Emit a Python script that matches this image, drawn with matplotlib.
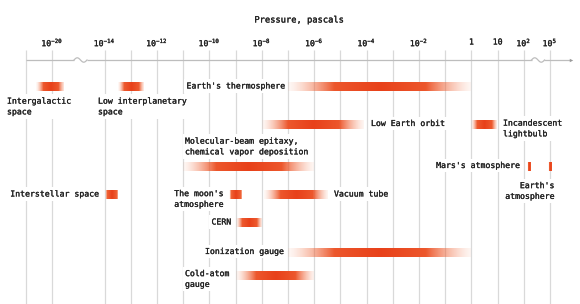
import numpy as np
import matplotlib
matplotlib.use('Agg')
from matplotlib import pyplot as plt
from matplotlib import patheffects
from matplotlib.colors import to_rgb

# pressure ranges as log10(pascals)
names = ['Intergalactic space', 'Low interplanetary space', "Earth's thermosphere",
         'Low Earth orbit', 'Incandescent lightbulb',
         'Molecular-beam epitaxy, chemical vapor deposition', "Mars's atmosphere",
         "Earth's atmosphere", 'Interstellar space', "The moon's atmosphere",
         'Vacuum tube', 'CERN', 'Ionization gauge', 'Cold-atom gauge']
low_exp = [-20.6, -13.5, -7.0, -8.0, 0.0, -11.0, 2.35, 4.75, -14.0, -9.25, -7.9, -9.0, -7.0, -9.0]
high_exp = [-18.5, -12.5, 0.0, -4.1, 1.0, -6.0, 2.85, 5.1, -13.5, -8.75, -5.45, -8.0, 0.0, -6.0]

tick_exp = [-20, -14, -12, -10, -8, -6, -4, -2, 0, 1, 2, 5]
tick_labels = [r'$\mathregular{10^{-20}}$', r'$\mathregular{10^{-14}}$', r'$\mathregular{10^{-12}}$',
               r'$\mathregular{10^{-10}}$', r'$\mathregular{10^{-8}}$', r'$\mathregular{10^{-6}}$',
               r'$\mathregular{10^{-4}}$', r'$\mathregular{10^{-2}}$', '1', '10',
               r'$\mathregular{10^{2}}$', r'$\mathregular{10^{5}}$']
grid_exp = [-21, -20, -14, -13, -12, -11, -10, -9, -8, -7, -6, -5, -4, -3, -2, -1, 0, 1, 2, 5]

# layout (pixels from top-left of the 580x304 canvas)
bar_row = [86, 86, 86, 124, 124, 166, 166, 166, 194, 194, 194, 222, 252, 275]
label_text = ['Intergalactic\nspace', 'Low interplanetary\nspace', "Earth's thermosphere",
              'Low Earth orbit', 'Incandescent\nlightbulb',
              'Molecular-beam epitaxy,\nchemical vapor deposition', "Mars's atmosphere",
              "Earth's\natmosphere", 'Interstellar space', "The moon's\natmosphere",
              'Vacuum tube', 'CERN', 'Ionization gauge', 'Cold-atom\ngauge']
label_xy = [(7, 106.5), (98, 106.5), (284, 86), (371, 123.5), (503, 128.5),
            (185, 146.5), (519, 165.5), (554, 191), (98, 194), (223, 199),
            (334, 194), (231, 222), (283, 251.5), (185, 279)]
label_ha = ['left', 'left', 'right', 'left', 'left', 'left', 'right', 'right',
            'right', 'right', 'left', 'right', 'right', 'left']

W, H = 580, 304
X0, STEP = 26, 26.2          # pixel of 10^-21 gridline, pixels per decade
TEXT = '#222222'
GRID = '#d9d9d9'
AXIS = '#bdbdbd'
RED = np.array(to_rgb('#e8411a'))
ORANGE = np.array(to_rgb('#f47b4a'))

# broken log axis: piecewise linear in the exponent
break_exp = [-40, -20, -14, 2, 5, 40]
break_pos = [-19, 1, 3, 19, 20, 55]


def forward(e):
    return np.interp(e, break_exp, break_pos)


def inverse(s):
    return np.interp(s, break_pos, break_exp)


def fx(px):
    return px / W


def fy(py):
    return 1 - py / H


def gradient_bar(ax, lo, hi, y, h=9.5):
    cols = 300
    e = np.linspace(lo, hi, cols)
    s = forward(e)
    t = (s - s[0]) / (s[-1] - s[0])
    w = 1 - np.abs(2 * t - 1)
    # short bars fade over a smaller share of their length
    fade = np.clip((s[-1] - s[0]) * STEP / 60, 0.15, 0.5)
    img = np.zeros((1, cols, 4))
    img[0, :, :3] = ORANGE + (RED - ORANGE) * (w[:, None] ** 0.7)
    img[0, :, 3] = 0.06 + 0.94 * np.clip(w / fade, 0, 1) ** 1.3
    ax.imshow(img, extent=(lo, hi, y + h / 2, y - h / 2), aspect='auto',
              interpolation='bilinear', zorder=3)


plt.rcParams['font.family'] = ['DejaVu Sans Mono', 'DejaVu Sans']
heavy = [patheffects.withStroke(linewidth=0.18, foreground=TEXT)]

fig = plt.figure(figsize=(W / 100, H / 100), dpi=100)
ax = fig.add_axes([0, 0, 1, 1])
ax.set_xscale('function', functions=(forward, inverse))
ax.axis('off')

# gridlines
ax.vlines(grid_exp, 50, H, color=GRID, lw=0.9, zorder=1)

# axis line with two breaks and an arrow
seg_px = [(X0, 74), (87, 532), (544, 570)]
for a, b in seg_px:
    ax.plot([inverse((a - X0) / STEP), inverse((b - X0) / STEP)], [60, 60],
            color=AXIS, lw=0.9, zorder=1, solid_capstyle='butt')
for c in (80.5, 538):
    xs = np.linspace(c - 6.5, c + 6.5, 30)
    ys = 60 - 2.2 * np.sin((xs - xs[0]) / 13 * 2 * np.pi)
    ax.plot(inverse((xs - X0) / STEP), ys, color=AXIS, lw=0.9, zorder=1)
ax.plot([inverse((571 - X0) / STEP)], [60], marker='>', ms=2.5, color='#9a9a9a',
        mec='none', zorder=1)

# tick labels and title
for e, lab in zip(tick_exp, tick_labels):
    ax.text(e, 42, lab, ha='center', va='center', fontsize=5.9, color=TEXT,
            path_effects=heavy)
ax.text(fx(299), fy(20), 'Pressure, pascals', transform=ax.transAxes,
        ha='center', va='center', fontsize=6.3, color=TEXT, path_effects=heavy)

# bars
for lo, hi, y in zip(low_exp, high_exp, bar_row):
    gradient_bar(ax, lo, hi, y)

# labels
for txt, (px, py), ha in zip(label_text, label_xy, label_ha):
    ax.text(fx(px), fy(py), txt, transform=ax.transAxes, ha=ha, va='center',
            ma=ha, fontsize=5.9, color=TEXT, linespacing=1.25, zorder=4,
            path_effects=heavy,
            bbox=dict(boxstyle='square,pad=0.3', fc='white', ec='none'))

ax.set_xlim(inverse(-X0 / STEP), inverse((W - X0) / STEP))
ax.set_ylim(H, 0)

fig.savefig('out.png', dpi=100, facecolor='white')
